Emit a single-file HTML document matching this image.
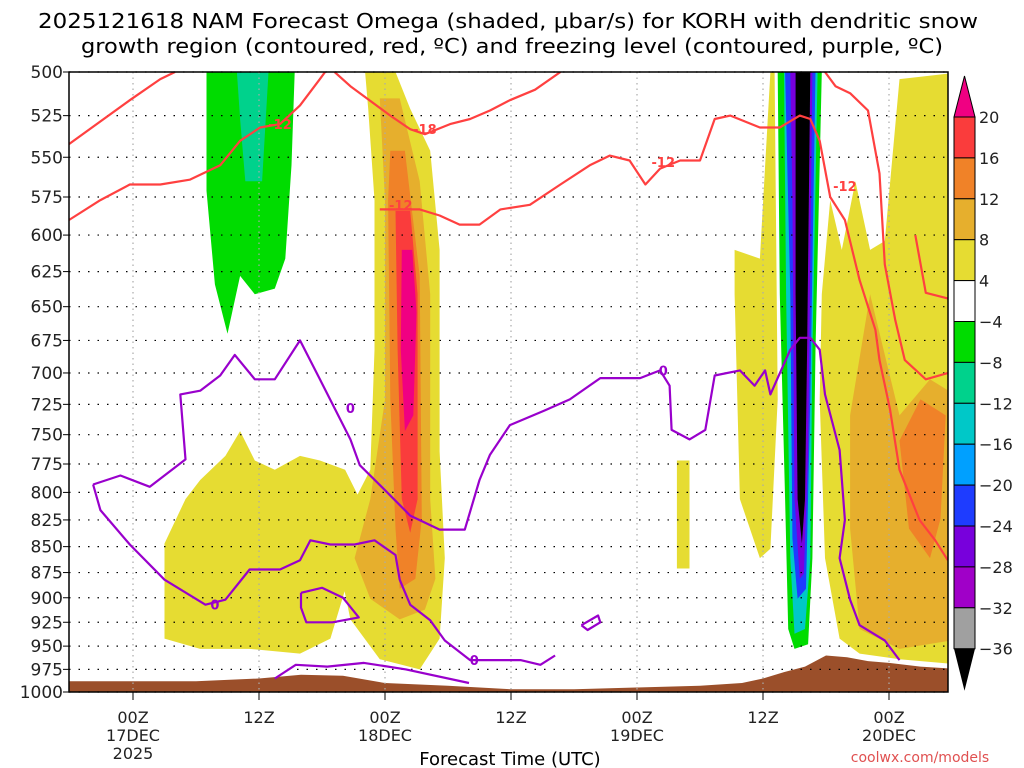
<!DOCTYPE html>
<html><head><meta charset="utf-8"><style>
html,body{margin:0;padding:0;background:#fff;}
svg{display:block;font-family:"DejaVu Sans","Liberation Sans",sans-serif;}
</style></head><body>
<svg id="chart" width="1024" height="768" viewBox="0 0 1024 768">
<defs><clipPath id="plotclip"><rect x="69" y="72" width="879" height="620"/></clipPath></defs>
<text x="508" y="28" font-size="20" text-anchor="middle" textLength="940" lengthAdjust="spacingAndGlyphs">2025121618 NAM Forecast Omega (shaded, μbar/s) for KORH with dendritic snow</text>
<text x="512" y="53" font-size="20" text-anchor="middle" textLength="862" lengthAdjust="spacingAndGlyphs">growth region (contoured, red, ºC) and freezing level (contoured, purple, ºC)</text>
<g id="shades" clip-path="url(#plotclip)"></g>
<g id="terrain" clip-path="url(#plotclip)"></g>
<g id="grid"></g>
<g id="contours" clip-path="url(#plotclip)"></g>
<rect x="69" y="72" width="879" height="620" fill="none" stroke="#000" stroke-width="1.5"/>
<g id="yaxis"></g>
<g id="xaxis"></g>
<text x="510" y="765" font-size="18" text-anchor="middle">Forecast Time (UTC)</text>
<text x="920" y="762" font-size="14" fill="#e05050" text-anchor="middle">coolwx.com/models</text>
<g id="cbar"></g>
</svg>
<script>
const pressureTicks=[500,525,550,575,600,625,650,675,700,725,750,775,800,825,850,875,900,925,950,975,1000];
const timeTicks=[0,12,24,36,48,60,72];
const timeLabels=[["00Z","17DEC","2025"],["12Z"],["00Z","18DEC"],["12Z"],["00Z","19DEC"],["12Z"],["00Z","20DEC"]];
const cbarLevels=[20,16,12,8,4,-4,-8,-12,-16,-20,-24,-28,-32,-36];
const cbarColors=["#fa3c3c","#f08228","#e6af2d","#e6dc32","#ffffff","#00dc00","#00d28c","#00c8c8","#00a0ff","#1e3cff","#7800dc","#a000c8","#a0a0a0"];
const terrainHours=[-7,0,6,12,16,20,24,30,36,42,48,54,58,60,62,64,66,68,70,72,75,79];
const terrainP=[988,988,988,985,981,982,990,993,997,997,995,993,990,985,978,972,960,962,966,968,972,975];
const shadeFills=[
["#00dc00",[[7.0,500],[15.4,500],[15.1,555],[14.5,616],[13.5,637],[11.6,641],[10.2,628],[9.0,670],[7.8,634],[7.0,571]]],
["#00d28c",[[9.9,500],[12.9,500],[12.3,565],[10.7,565],[10.2,527]]],
["#e6dc32",[[3.0,942],[3.0,847],[5.0,806],[6.4,789],[8.8,768],[10.2,747],[11.6,772],[13.5,780],[15.9,768],[17.8,772],[20.2,780],[21.6,806],[21.1,861],[18.8,942],[15.9,958],[11.1,953],[6.4,953]]],
["#e6dc32",[[22.1,500],[25.0,500],[26.4,521],[28.3,546],[29.2,610],[29.2,764],[29.7,861],[29.2,942],[27.3,975],[23.5,964],[20.7,922],[19.7,871],[20.2,824],[22.6,780],[23.0,682],[23.0,577],[22.4,521]]],
["#e6af2d",[[23.5,515],[25.4,515],[27.3,565],[28.3,641],[28.3,806],[28.8,881],[27.8,912],[25.4,922],[22.6,901],[21.1,861],[22.6,806],[24.0,721],[24.0,577]]],
["#f08228",[[24.5,546],[25.9,546],[27.3,628],[27.5,824],[26.9,881],[25.4,891],[25.0,833],[24.5,721],[24.3,577]]],
["#fa3c3c",[[25.0,584],[26.4,584],[27.1,641],[27.1,806],[26.4,837],[25.6,806],[25.2,682]]],
["#f00082",[[25.6,610],[26.6,610],[27.0,654],[26.7,734],[25.9,747],[25.5,682]]],
["#e6dc32",[[57.3,610],[59.7,616],[60.7,500],[61.1,500],[61.4,721],[60.7,852],[59.7,861],[57.8,806],[57.3,641]]],
["#e6dc32",[[51.8,772],[53.0,772],[53.0,871],[51.8,871]]],
["#e6dc32",[[65.6,641],[66.4,577],[67.5,610],[68.8,565],[70.2,610],[71.6,604],[73.0,504],[79,500],[79,970],[73.0,964],[69.2,958],[67.3,942],[65.9,861],[65.4,721]]],
["#e6af2d",[[68.3,734],[70.2,641],[73.0,734],[75.9,705],[79,721],[79,942],[73.0,953],[69.2,932],[68.3,833]]],
["#f08228",[[73.0,755],[75.0,721],[77.4,734],[76.9,824],[75.9,861],[73.9,833]]],
["#00dc00",[[61.4,500],[65.6,500],[65.0,682],[64.7,861],[64.3,948],[63.0,953],[62.4,932],[62.1,806],[61.6,641]]],
["#00c8c8",[[62.0,500],[65.2,500],[64.7,682],[64.5,861],[64.0,932],[63.0,937],[62.6,861],[62.2,641]]],
["#1e3cff",[[62.1,500],[65.0,500],[64.5,721],[64.1,891],[63.3,901],[62.8,842],[62.6,641]]],
["#7800dc",[[62.6,500],[64.7,500],[64.3,764],[63.9,876],[63.5,881],[63.0,806],[62.8,577]]],
["#000000",[[63.1,500],[64.5,500],[64.2,682],[64.0,806],[63.7,847],[63.3,806],[63.1,641]]]
];
const purpleLines=[
[[-3.8,793],[-3.1,816],[-0.3,848],[3.0,882],[6.9,907],[8.8,902],[11.1,872],[14.0,872],[15.9,863],[16.9,844],[18.8,848],[21.1,848],[23.0,844],[25.0,858],[25.4,882],[26.4,907],[28.3,923],[29.7,944],[32.1,965],[36.9,965],[38.8,970],[40.2,960]],
[[-3.8,793],[-1.2,785],[1.6,795],[5.0,771],[4.5,717],[6.4,714],[8.3,702],[9.7,686],[11.6,705],[13.5,705],[15.9,675],[17.8,705],[20.7,754],[21.6,776],[24.0,798],[26.4,821],[29.2,834],[31.6,834],[33.0,789],[34.0,767],[35.9,742],[39.2,730],[41.6,721],[44.5,704],[48.3,704],[50.2,698],[51.1,710],[51.3,746],[53.0,754],[54.5,746],[55.4,702],[57.8,698],[59.2,710],[60.2,698],[60.7,717],[62.6,682],[63.5,673],[64.5,673],[65.4,682],[65.9,717],[67.3,763],[67.8,825],[67.3,861],[68.3,902],[69.2,928],[71.6,944],[73.0,965]],
[[16,895],[18,890],[20,900],[21.5,920],[19,925],[16.5,925],[16,910],[16,895]],
[[13.5,985],[15.5,970],[18.5,972],[22,968],[26,975],[32,990]],
[[42.7,928],[44.3,918],[44.5,925],[43.3,933],[42.7,928]]
];
const redLines=[
[[-6.1,542],[-0.3,516],[2.6,504],[4.0,500]],
[[-6.1,590],[-3.1,577],[-0.3,567],[2.6,567],[5.4,564],[8.3,555],[10.2,540],[12.1,532],[14.0,530],[15.9,519],[17.8,504],[18.3,500]],
[[19.2,500],[20.7,508],[24.5,525],[26.4,533],[27.8,536],[30.2,530],[32.1,527],[34.0,522],[35.9,516],[38.3,510],[40.7,500]],
[[23.5,583],[27.3,583],[29.2,587],[31.1,593],[33.0,593],[35.0,583],[37.8,580],[40.7,567],[43.5,555],[45.4,549],[47.3,552],[48.8,567],[50.2,557],[52.1,552],[54.0,552],[55.4,527],[56.9,525],[59.7,532],[61.6,532],[63.5,525],[64.5,527],[65.4,540],[66.4,575],[67.8,590],[69.2,631],[70.7,667],[71.1,690],[72.1,729],[73.0,780],[74.9,825],[76.4,844],[77.6,863]],
[[65.9,500],[66.9,508],[68.3,512],[70.0,522],[71.1,560],[71.6,620],[72.6,660],[73.5,690],[75.5,705],[77.6,700]],
[[74.5,600],[75.5,640],[77.6,644]]
];
const redLabels=[[14.0,530,"-12"],[27.8,533,"-18"],[25.5,580,"-12"],[50.5,553,"-12"],[67.8,568,"-12"]];
const purpleLabels=[[20.7,728,"0"],[32.5,965,"0"],[7.8,907,"0"],[50.5,698,"0"]];

const NS="http://www.w3.org/2000/svg";
const X=h=>133+h*10.5;
const Y=p=>72+Math.log(p/500)/Math.LN2*620;
function mk(tag,attrs,parent){const e=document.createElementNS(NS,tag);for(const k in attrs)e.setAttribute(k,attrs[k]);parent.appendChild(e);return e;}
const pts=a=>a.map(q=>X(q[0]).toFixed(1)+","+Y(q[1]).toFixed(1)).join(" ");

const gS=document.getElementById("shades");
shadeFills.forEach((s,i)=>{
 const e=mk("polygon",{points:pts(s[1]),fill:s[0]},gS);
 
 
});
const gT=document.getElementById("terrain");
{
 const tp=terrainHours.map((h,i)=>[h,terrainP[i]]);
 const d=pts(tp)+" "+X(79)+","+Y(1000)+" "+X(-7)+","+Y(1000);
 const e=mk("polygon",{points:d,fill:"#9b4f2a"},gT);
 
 
}
const gG=document.getElementById("grid");
pressureTicks.forEach(p=>{
 const e=mk("line",{x1:69,x2:948,y1:Y(p),y2:Y(p),stroke:"#000","stroke-width":1.2,"stroke-dasharray":"1.5 8"},gG);
 
 
});
timeTicks.forEach(h=>{
 const e=mk("line",{x1:X(h),x2:X(h),y1:72,y2:692,stroke:"#aaa","stroke-width":1.2,"stroke-dasharray":"1.5 4"},gG);
 
 
});
const gC=document.getElementById("contours");
redLines.forEach(l=>{
 const e=mk("polyline",{points:pts(l),fill:"none",stroke:"#ff4040","stroke-width":2.2,"stroke-linejoin":"round"},gC);
 
 
});
purpleLines.forEach(l=>{
 const e=mk("polyline",{points:pts(l),fill:"none",stroke:"#9900cc","stroke-width":2.2,"stroke-linejoin":"round"},gC);
 
 
});
redLabels.forEach(l=>{
 const e=mk("text",{x:X(l[0]),y:Y(l[1])+5,"font-size":13,"font-weight":"bold",fill:"#ff4040","text-anchor":"middle"},gC);
 e.textContent=l[2];
 
 
});
purpleLabels.forEach(l=>{
 const e=mk("text",{x:X(l[0]),y:Y(l[1])+5,"font-size":13,"font-weight":"bold",fill:"#9900cc","text-anchor":"middle"},gC);
 e.textContent=l[2];
 
 
});
const gY=document.getElementById("yaxis");
pressureTicks.forEach(p=>{
 const t=mk("line",{x1:63,x2:69,y1:Y(p),y2:Y(p),stroke:"#000","stroke-width":1},gY);
 
 
 const e=mk("text",{x:63,y:Y(p)+6,"font-size":17,"text-anchor":"end",fill:"#222"},gY);
 e.textContent=p;
 
 
});
const gX=document.getElementById("xaxis");
timeTicks.forEach((h,i)=>{
 const t=mk("line",{x1:X(h),x2:X(h),y1:692,y2:700,stroke:"#000","stroke-width":1},gX);
 
 
 timeLabels[i].forEach((s,j)=>{
  const e=mk("text",{x:X(h),y:723+j*18,"font-size":16,"text-anchor":"middle",fill:"#222"},gX);
  e.textContent=s;
  
  
 });
});
const gB=document.getElementById("cbar");
const cbTop=117, cbStep=40.9, cbX=954, cbW=21;
cbarColors.forEach((c,i)=>{
 const e=mk("rect",{x:cbX,y:cbTop+i*cbStep,width:cbW,height:cbStep,fill:c,stroke:"#000","stroke-width":1},gB);
 
 
});
{
 const a=mk("polygon",{points:`${cbX},${cbTop} ${cbX+cbW},${cbTop} ${cbX+cbW/2},76`,fill:"#f00082",stroke:"#000","stroke-width":1},gB);
 
 
 const yb=cbTop+cbarColors.length*cbStep;
 const b=mk("polygon",{points:`${cbX},${yb} ${cbX+cbW},${yb} ${cbX+cbW/2},${yb+42}`,fill:"#000"},gB);
 
 
}
cbarLevels.forEach((v,i)=>{
 const e=mk("text",{x:979,y:cbTop+i*cbStep+6,"font-size":16,fill:"#222"},gB);
 e.textContent=v<0?"\u2212"+(-v):String(v);
 
 
});
</script>
</body></html>
